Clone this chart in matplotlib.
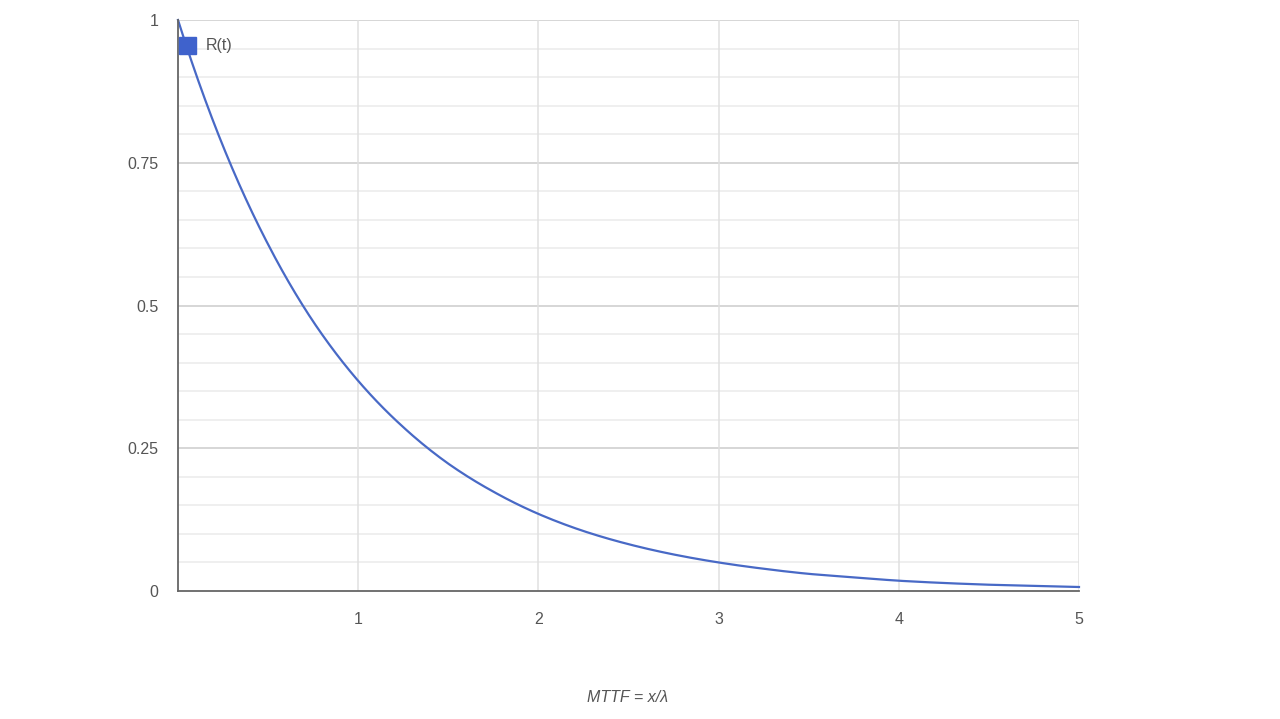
import numpy as np
import matplotlib.pyplot as plt
from matplotlib.patches import Rectangle

plt.rcParams['font.family'] = ['Liberation Sans', 'DejaVu Sans']

# values
t = [0, 0.25, 0.5, 0.75, 1.0, 1.25, 1.5, 1.75, 2.0, 2.25, 2.5,
     2.75, 3.0, 3.25, 3.5, 3.75, 4.0, 4.25, 4.5, 4.75, 5.0]
r = [1.0, 0.779, 0.607, 0.472, 0.368, 0.287, 0.223, 0.174, 0.135, 0.105, 0.082,
     0.064, 0.050, 0.039, 0.030, 0.024, 0.018, 0.014, 0.011, 0.009, 0.007]

x_ticks = [1, 2, 3, 4, 5]
y_ticks = [0, 0.25, 0.5, 0.75, 1]
y_labels = ["0", "0.25", "0.5", "0.75", "1"]

fig = plt.figure(figsize=(12.8, 7.19), dpi=100)
ax = fig.add_axes([178/1280, 1-591/719, (1079-178)/1280, (591-20)/719])

# smooth the read points for drawing
ts = np.linspace(0, 5, 400)
rs = np.exp(np.interp(ts, t, np.log(r)))
ax.plot(ts, rs, color="#4869c6", lw=1.6, zorder=3, clip_on=False)

ax.set_xlim(0, 5)
ax.set_ylim(0, 1)

# grid
for yv in np.arange(0.05, 1.0001, 0.05):
    major = abs(yv / 0.25 - round(yv / 0.25)) < 1e-6
    ax.axhline(yv, color="#cccccc" if major else "#ebebeb", lw=1.1, zorder=1)
for xv in x_ticks:
    ax.axvline(xv, color="#e0e0e0", lw=1.1, zorder=1)

for s in ["top", "right"]:
    ax.spines[s].set_visible(False)
for s in ["left", "bottom"]:
    ax.spines[s].set_color("#666666")
    ax.spines[s].set_linewidth(1.3)
    ax.spines[s].set_zorder(4)

ax.set_xticks(x_ticks)
ax.set_xticklabels([str(v) for v in x_ticks])
ax.set_yticks(y_ticks)
ax.set_yticklabels(y_labels)
ax.tick_params(length=0, labelsize=11.5, labelcolor="#555555")
ax.tick_params(axis="x", pad=15)
ax.tick_params(axis="y", pad=14)

fig.text(628/1280, 1-697/719, "MTTF = x/λ", fontsize=11.5, style="italic",
         color="#555555", ha="center", va="center")

# legend: square marker + label
ax.add_patch(Rectangle((0.005, 0.94), 0.095, 0.031, transform=ax.transData,
                       color="#3f62cc", zorder=5, clip_on=False))
ax.text(0.155, 0.956, "R(t)", fontsize=11.5, color="#555555", va="center", zorder=5)

fig.savefig("out.png", dpi=100)
